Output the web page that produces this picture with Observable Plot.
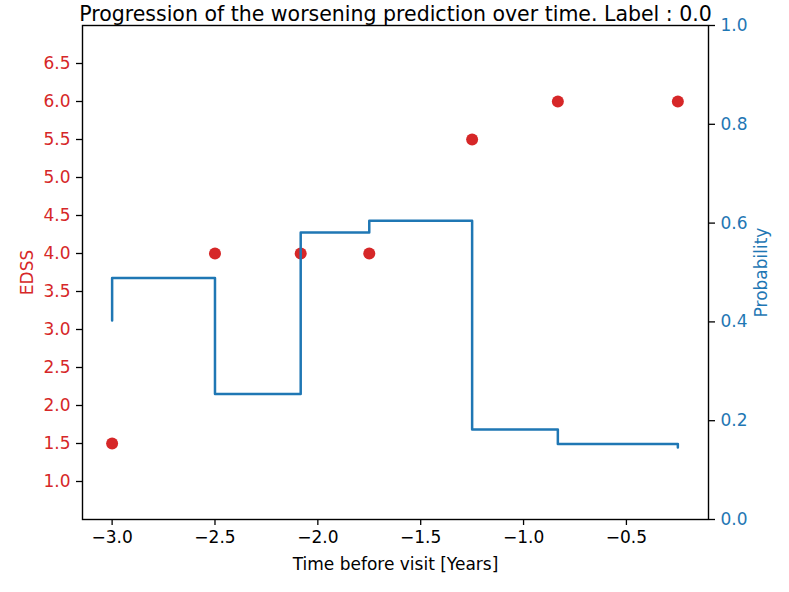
<!DOCTYPE html>
<html>
<head>
<meta charset="utf-8">
<script src="https://cdn.jsdelivr.net/npm/d3@7"></script>
<script src="https://cdn.jsdelivr.net/npm/@observablehq/plot@0.6"></script>
<style>
  html, body { margin: 0; padding: 0; background: #fff; }
  #wrap { position: relative; width: 789px; height: 592px; }
  #wrap > svg, #wrap > figure { position: absolute; left: 0; top: 0; margin: 0; }
</style>
</head>
<body>
<div id="wrap"></div>
<script>
const titleText = "Progression of the worsening prediction over time. Label : 0.0";
// EDSS visits
const visitTimes = [-3.0, -2.5, -25/12, -1.75, -1.25, -10/12, -0.25];
const edssValues = [1.5, 4.0, 4.0, 4.0, 5.5, 6.0, 6.0];
// Worsening probability (drawn as post-step line)
const probTimes = [-3.0, -3.0, -2.5, -25/12, -1.75, -1.25, -10/12, -0.25];
const probValues = [0.403, 0.489, 0.254, 0.581, 0.605, 0.182, 0.153, 0.146];
// ticks
const xTicks = [-3.0, -2.5, -2.0, -1.5, -1.0, -0.5];
const edssTicks = [1.0, 1.5, 2.0, 2.5, 3.0, 3.5, 4.0, 4.5, 5.0, 5.5, 6.0, 6.5];
const probTicks = [0.0, 0.2, 0.4, 0.6, 0.8, 1.0];

const RED = "#d62728", BLUE = "#1f77b4";
const W = 789, H = 592;
const margins = {marginLeft: 82, marginRight: 81, marginTop: 25, marginBottom: 73};
const xDomain = [-3.144, -0.101];
const fmt = d3.format(".1f");
const font = {fontFamily: "DejaVu Sans, sans-serif", fontSize: "17px", background: "transparent", overflow: "visible"};

const edss = visitTimes.map((t, i) => ({t, v: edssValues[i]}));
const prob = probTimes.map((t, i) => ({t, p: probValues[i]}));

const p1 = Plot.plot({
  width: W, height: H, ...margins,
  style: font,
  x: {domain: xDomain},
  y: {domain: [0.5, 7.0]},
  marks: [
    Plot.axisX({ticks: xTicks, tickFormat: fmt, tickSize: 6, tickPadding: 5, stroke: "black", strokeWidth: 1.3, fill: "black",
      label: "Time before visit [Years]", labelAnchor: "center", labelArrow: "none", labelOffset: 50}),
    Plot.axisY({anchor: "left", ticks: edssTicks, tickFormat: fmt, tickSize: 6, tickPadding: 6, stroke: "black", strokeWidth: 1.3, fill: RED,
      label: "EDSS", labelAnchor: "center", labelArrow: "none", labelOffset: 62}),
    Plot.dot(edss, {x: "t", y: "v", r: 6, fill: RED, stroke: null}),
    Plot.text([titleText], {frameAnchor: "top", dy: -5, lineAnchor: "bottom", fontSize: 20.5, fill: "black"})
  ]
});

const p2 = Plot.plot({
  width: W, height: H, ...margins,
  style: font,
  x: {domain: xDomain, axis: null},
  y: {domain: [0, 1]},
  marks: [
    Plot.axisY({anchor: "right", ticks: probTicks, tickFormat: fmt, tickSize: 6, tickPadding: 6, stroke: "black", strokeWidth: 1.3, fill: BLUE,
      label: "Probability", labelAnchor: "center", labelArrow: "none", labelOffset: 58}),
    Plot.line(prob, {x: "t", y: "p", curve: "step-after", stroke: BLUE, strokeWidth: 2.5}),
    Plot.frame({stroke: "black", strokeWidth: 1.4})
  ]
});

const wrap = document.getElementById("wrap");
wrap.appendChild(p1);
wrap.appendChild(p2);
</script>
</body>
</html>
